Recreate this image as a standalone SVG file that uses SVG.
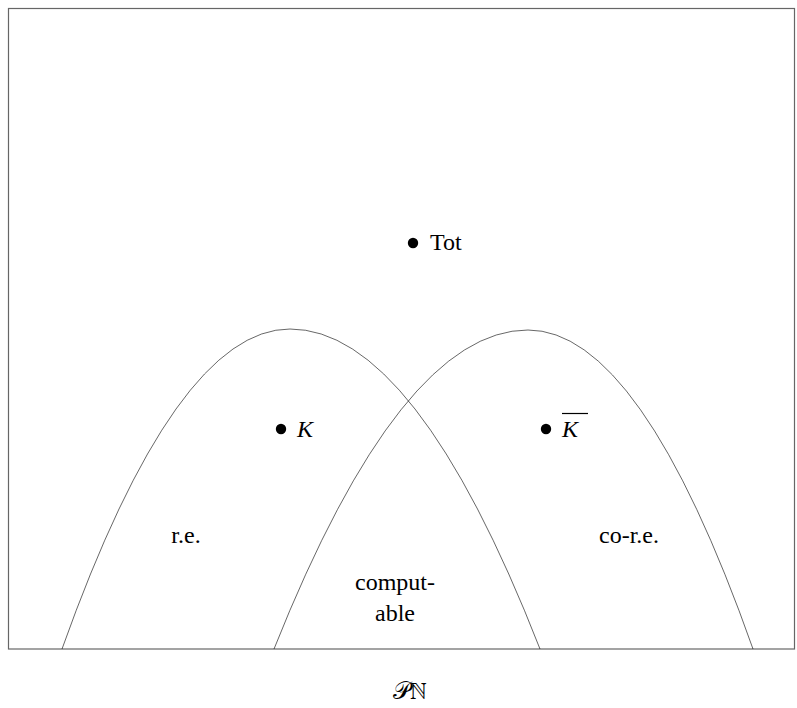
<svg xmlns="http://www.w3.org/2000/svg" width="797" height="708" viewBox="0 0 797 708">
<style>
text{font-family:'Liberation Serif','Times New Roman',Times,serif;font-size:24px;fill:#000}
.i{font-style:italic}
.c{fill:none;stroke:#000;stroke-width:0.6}
.dot{fill:#000}
</style>
<rect x="0" y="0" width="797" height="708" fill="#fff"/>
<g id="frame">
<rect x="8.5" y="8.5" width="786" height="640.5" fill="none" stroke="#666" stroke-width="1.2"/>
</g>
<g id="connectors">
<path id="re-curve" class="c" d="M62,649 Q176,329 290,329 Q415,329 540,649"/>
<path id="core-curve" class="c" d="M274,649 Q401,330 528,330 Q640.5,330 753,649"/>
</g>
<g id="tot"><circle class="dot" cx="413" cy="243" r="5.2"/><text x="430" y="250" font-size="25">Tot</text></g>
<g id="K"><circle class="dot" cx="281" cy="429" r="5.2"/><text class="i" x="297" y="437" textLength="26">K</text></g>
<g id="Kbar"><circle class="dot" cx="546" cy="429" r="5.2"/><text class="i" x="562" y="437" textLength="26">K</text><line x1="562" y1="413.5" x2="588" y2="413.5" stroke="#000" stroke-width="1.2"/></g>
<g id="re"><text x="186" y="543" text-anchor="middle">r.e.</text></g>
<g id="core"><text x="629" y="543" text-anchor="middle">co-r.e.</text></g>
<g id="computable"><text x="395" y="590" text-anchor="middle">comput-</text><text x="395" y="621" text-anchor="middle">able</text></g>
<g id="PN"><text x="410" y="699" text-anchor="middle">𝒫ℕ</text></g>
</svg>
